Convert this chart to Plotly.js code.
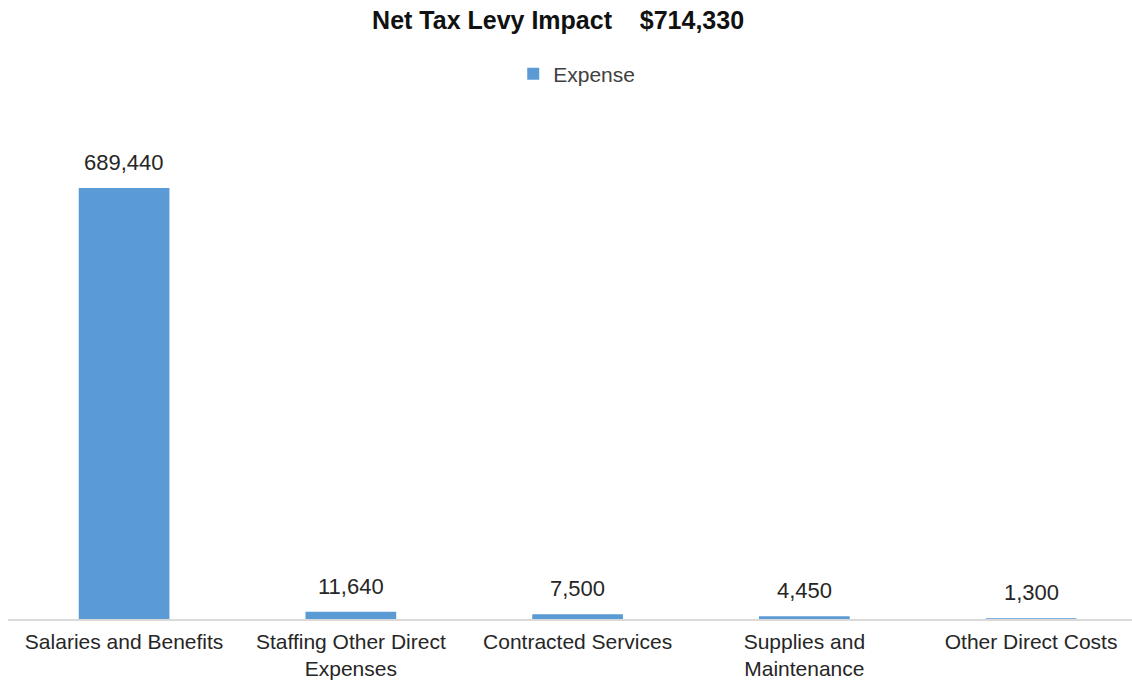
<!DOCTYPE html>
<html>
<head>
<meta charset="utf-8">
<script src="https://cdn.plot.ly/plotly-3.0.1.min.js"></script>
<style>html,body{margin:0;padding:0;background:#fff;}#chart{width:1132px;height:683px;}</style>
</head>
<body>
<div id="chart"></div>
<script>
const categories = ["Salaries and Benefits", "Staffing Other Direct<br>Expenses", "Contracted Services", "Supplies and<br>Maintenance", "Other Direct Costs"];
const expense = [689440, 11640, 7500, 4450, 1300];
const seriesName = "Expense";
const titleText = "Net Tax Levy Impact\u00a0\u00a0\u00a0\u00a0$714,330";

const fontFam = "Liberation Sans, Arial, sans-serif";

const trace = {
  type: "bar",
  name: seriesName,
  x: categories,
  y: expense,
  marker: {color: "#5b9bd5"},
  hoverinfo: "skip"
};

const labels = categories.map((c, i) => ({
  x: c, y: expense[i], xref: "x", yref: "y",
  text: expense[i].toLocaleString("en-US"),
  showarrow: false, yanchor: "bottom", yshift: 11,
  font: {family: fontFam, size: 22, color: "#262626"}
}));

const layout = {
  width: 1132, height: 683,
  paper_bgcolor: "#fff", plot_bgcolor: "#fff",
  margin: {l: 8, r: 0, t: 119, b: 64},
  title: {text: titleText, x: 0.493, xanchor: "center", y: 0.971, yanchor: "middle",
    font: {family: fontFam, size: 25, color: "#111", weight: "bold"}},
  showlegend: true,
  legend: {orientation: "h", x: 0.506, xanchor: "center", y: 1.09, yanchor: "middle",
    itemwidth: 30,
    font: {family: fontFam, size: 21, color: "#404040"}},
  bargap: 0.6,
  annotations: labels,
  xaxis: {range: [-0.512, 4.445], showline: true, linecolor: "#d9d9d9", linewidth: 1.5,
    ticks: "", showgrid: false, zeroline: false, ticklabelstandoff: 3,
    tickfont: {family: fontFam, size: 21, color: "#262626"}},
  yaxis: {range: [0, 800000], visible: false, showgrid: false, zeroline: false}
};

Plotly.newPlot("chart", [trace], layout, {displayModeBar: false, staticPlot: true});
</script>
</body>
</html>
